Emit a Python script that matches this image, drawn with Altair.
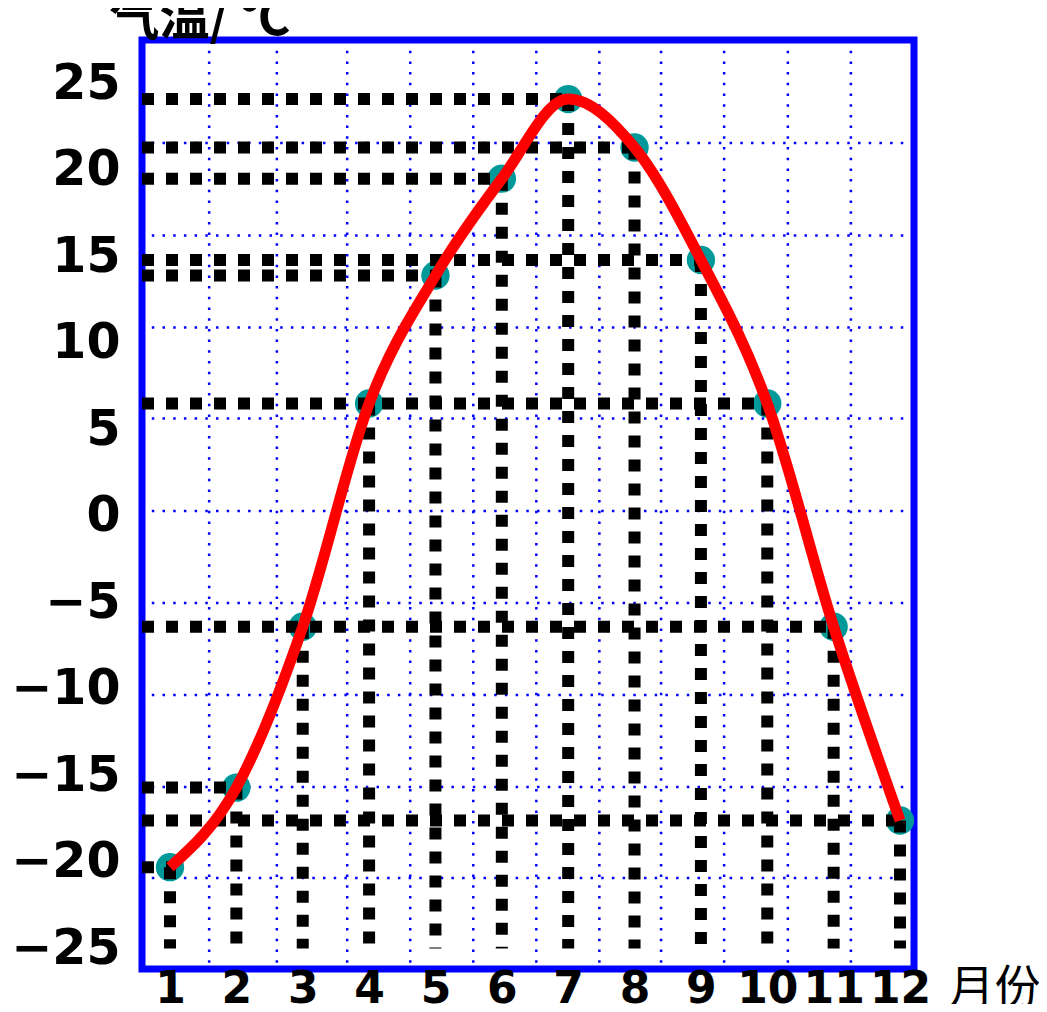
import altair as alt
import pandas as pd

# ---- data ----
months = list(range(1, 13))
temps = [-20.3, -15.7, -6.4, 6.5, 13.9, 19.5, 24.1, 21.3, 14.8, 6.5, -6.4, -17.6]
x_ticks = list(range(1, 13))
y_ticks = [25, 20, 15, 10, 5, 0, -5, -10, -15, -20, -25]
# background grid-paper lines (in axis units)
grid_x = [1.59, 2.61, 3.67, 4.62, 5.57, 6.52, 7.47, 8.40, 9.35, 10.31, 11.26]
grid_y = [21.56, 16.21, 10.90, 5.64, 0.29, -5.03, -10.35, -15.66, -20.92]
y_title = "气温/ ℃"
x_title = "月份"

X_DOMAIN = [0.578, 12.211]
Y_DOMAIN = [-26.185, 27.514]

df = pd.DataFrame({"month": months, "temp": temps})
df["ybottom"] = min(y_ticks)
# horizontal guide: from the y axis to the last month with that temperature
hdf = df.groupby("temp", as_index=False)["month"].max()
hdf["x0"] = X_DOMAIN[0]

xs = alt.Scale(domain=X_DOMAIN, nice=False, zero=False)
ys = alt.Scale(domain=Y_DOMAIN, nice=False, zero=False)

x_axis = alt.Axis(
    values=x_ticks, title=x_title, grid=False, ticks=False, tickSize=0, domain=False,
    labelFont="DejaVu Sans", labelFontWeight="bold", labelFontSize=44, labelColor="black",
    labelPadding=33, labelBaseline="alphabetic", labelOverlap=False, labelFlush=False,
    titleFont="Noto Sans CJK SC", titleFontSize=46, titleFontWeight="normal", titleColor="black",
    titleX=806, titleY=33, titleAlign="left", titleBaseline="alphabetic", titleAngle=0,
)
y_axis = alt.Axis(
    values=y_ticks, title=y_title, grid=False, ticks=False, tickSize=0, domain=False,
    labelFont="DejaVu Sans", labelFontWeight="bold", labelFontSize=49, labelColor="black",
    labelPadding=22, labelOverlap=False, labelFlush=False,
    labelExpr="datum.value < 0 ? '−' + (-datum.value) : '' + datum.value",
    titleFont="Noto Sans CJK SC", titleFontSize=50, titleFontWeight="bold", titleColor="black",
    titleX=-33, titleY=-6, titleAlign="left", titleBaseline="alphabetic", titleAngle=0,
)

grid_style = dict(color="#0000FF", strokeWidth=2.5, strokeDash=[2.5, 8.2])

vgrid = alt.Chart(pd.DataFrame({"gx": grid_x})).mark_rule(**grid_style).encode(
    x=alt.X("gx:Q", scale=xs, axis=x_axis)
)
hgrid = alt.Chart(pd.DataFrame({"gy": grid_y})).mark_rule(**grid_style).encode(
    y=alt.Y("gy:Q", scale=ys, axis=y_axis)
)

points = alt.Chart(df).mark_circle(size=804, color="#009999", opacity=1).encode(
    x=alt.X("month:Q", scale=xs, axis=x_axis),
    y=alt.Y("temp:Q", scale=ys, axis=y_axis),
)

dot_style = dict(color="black", strokeWidth=12, strokeDash=[12, 12])

hlines = alt.Chart(hdf).mark_rule(**dot_style).encode(
    x=alt.X("x0:Q", scale=xs, axis=x_axis),
    x2="month:Q",
    y=alt.Y("temp:Q", scale=ys, axis=y_axis),
)
vlines = alt.Chart(df).mark_rule(**dot_style).encode(
    x=alt.X("month:Q", scale=xs, axis=x_axis),
    y=alt.Y("temp:Q", scale=ys, axis=y_axis),
    y2="ybottom:Q",
)

curve = alt.Chart(df).mark_line(color="#FF0000", strokeWidth=11, interpolate="monotone").encode(
    x=alt.X("month:Q", scale=xs, axis=x_axis),
    y=alt.Y("temp:Q", scale=ys, axis=y_axis),
)

chart = (
    alt.layer(vgrid, hgrid, points, hlines, vlines, curve)
    .properties(
        width=772,
        height=929,
        autosize=alt.AutoSizeParams(type="none"),
        padding={"left": 134, "top": 32, "right": 125, "bottom": 35},
        background="white",
    )
    .configure_view(stroke="#0000FF", strokeWidth=7)
)

chart.save("out.html", embed_options={"renderer": "svg", "actions": False})
